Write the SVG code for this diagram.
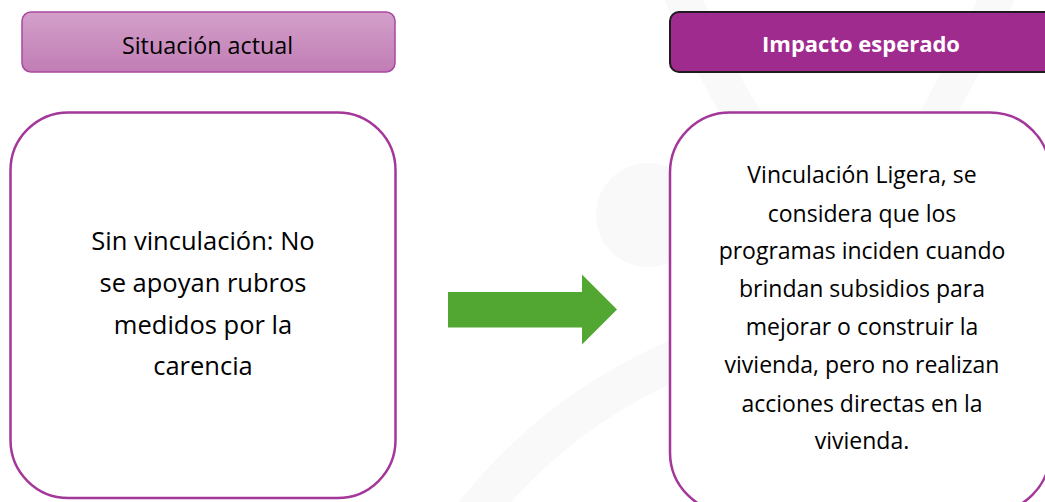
<svg xmlns="http://www.w3.org/2000/svg" width="1045" height="502" viewBox="0 0 1045 502">
<defs>
<linearGradient id="hdrGrad" x1="0" y1="0" x2="0" y2="1">
<stop offset="0" stop-color="#d3a0ca"/>
<stop offset="1" stop-color="#c17db4"/>
</linearGradient>
<style>
.wm{fill:#f9f9f9;stroke:none}
.wmband{fill:none;stroke:#f9f9f9;stroke-linecap:round}
.box{fill:#ffffff;stroke:#a3379a;stroke-width:2.5}
.txt{font-family:"Open Sans","Noto Sans","Liberation Sans",sans-serif;fill:#000000;text-anchor:middle}
.bodyL{font-size:25.5px}
.bodyR{font-size:23px}
</style>
</defs>
<rect x="0" y="0" width="1045" height="502" fill="#ffffff"/>
<g id="watermark">
<circle class="wm" cx="648" cy="215" r="52"/>
<path class="wmband" stroke-width="40" d="M470,520 C540,430 620,380 700,350"/>
<path class="wmband" stroke-width="36" d="M680,-10 C700,40 720,80 745,120"/>
<path class="wmband" stroke-width="34" d="M1000,-10 C980,40 955,80 930,130"/>
</g>
<g id="connectors">
<polygon id="arrow" points="448,292 582,292 582,274.5 617,309.5 582,344.5 582,327.5 448,327.5" fill="#52a733"/>
</g>
<g id="header-actual">
<rect x="22" y="12" width="373" height="60" rx="9" fill="url(#hdrGrad)" stroke="#a848a0" stroke-width="1.5"/>
<text class="txt" x="207.5" y="54" font-size="23.3">Situación actual</text>
</g>
<g id="header-impacto">
<rect x="670" y="12" width="385" height="60" rx="9" fill="#a02b8f" stroke="#1e1a1d" stroke-width="2"/>
<text class="txt" x="861" y="52" font-size="22" font-weight="bold" style="fill:#ffffff">Impacto esperado</text>
</g>
<g id="box-actual">
<rect class="box" x="10.5" y="112.5" width="385" height="385.5" rx="58"/>
<text class="txt bodyL" x="203" y="250">Sin vinculación: No</text>
<text class="txt bodyL" x="203" y="292">se apoyan rubros</text>
<text class="txt bodyL" x="203" y="333.5">medidos por la</text>
<text class="txt bodyL" x="203" y="375">carencia</text>
</g>
<g id="box-impacto">
<rect class="box" x="670" y="112.5" width="380" height="400" rx="60"/>
<text class="txt bodyR" x="862" y="183">Vinculación Ligera, se</text>
<text class="txt bodyR" x="862" y="221.5">considera que los</text>
<text class="txt bodyR" x="862" y="258.5">programas inciden cuando</text>
<text class="txt bodyR" x="862" y="296.5">brindan subsidios para</text>
<text class="txt bodyR" x="862" y="335">mejorar o construir la</text>
<text class="txt bodyR" x="862" y="373">vivienda, pero no realizan</text>
<text class="txt bodyR" x="862" y="411.5">acciones directas en la</text>
<text class="txt bodyR" x="862" y="448.5">vivienda.</text>
</g>
</svg>
